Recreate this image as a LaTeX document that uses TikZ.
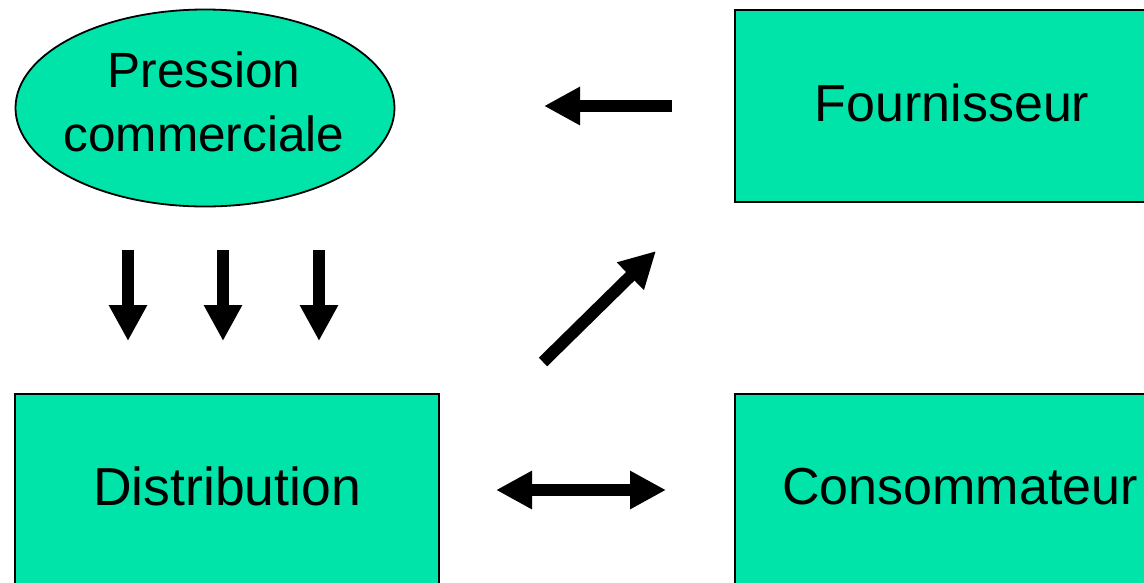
\documentclass[tikz,border=0pt]{standalone}
\usepackage{fontspec}
\setmainfont{Liberation Sans}
\usetikzlibrary{arrows.meta,shapes.geometric}
\definecolor{boxgreen}{RGB}{0,228,170}
\tikzset{
  blockbox/.style={draw=black, line width=2.5pt, fill=boxgreen, rectangle, inner sep=0pt,
    minimum height=192pt, text depth=7pt, font=\fontsize{52}{62}\selectfont},
  pressbox/.style={draw=black, line width=1.8pt, fill=boxgreen, ellipse, inner sep=0pt,
    minimum width=379pt, minimum height=197pt},
  presstext/.style={inner sep=0pt, align=center, font=\fontsize{49.5}{64}\selectfont},
  bigarrow/.style={line width=12pt, black, -{Triangle[length=36pt,width=36pt]}},
  bigdarrow/.style={line width=12pt, black, {Triangle[length=36pt,width=36pt]}-{Triangle[length=36pt,width=36pt]}}
}
\begin{document}
\begin{tikzpicture}[x=1pt,y=-1pt]
\useasboundingbox (0,0) rectangle (1144,582);
\clip (0,0) rectangle (1144,582);
\node[pressbox] (press) at (205,108) {};
\node[presstext] (presslabel) at (204,101.5) {Pression\\commerciale};
\node[blockbox, minimum width=434pt] (four) at (952,106) {Fournisseur};
\node[blockbox, minimum width=424pt, font=\fontsize{53.5}{62}\selectfont] (distr) at (227,490) {Distribution};
\node[blockbox, minimum width=450pt] (cons) at (960,490) {Consommateur};
% arrow end points
\coordinate (la1) at (672,106); \coordinate (la2) at (544,106);
\coordinate (da1) at (543,362); \coordinate (da2) at (656,251);
\coordinate (ba1) at (496,490); \coordinate (ba2) at (666,490);
\coordinate (d1a) at (128,250); \coordinate (d1b) at (128,341);
\coordinate (d2a) at (223,250); \coordinate (d2b) at (223,341);
\coordinate (d3a) at (319,250); \coordinate (d3b) at (319,341);
\draw[bigarrow] (la1) -- (la2);
\draw[bigarrow] (da1) -- (da2);
\draw[bigdarrow] (ba1) -- (ba2);
\draw[bigarrow] (d1a) -- (d1b);
\draw[bigarrow] (d2a) -- (d2b);
\draw[bigarrow] (d3a) -- (d3b);
\end{tikzpicture}
\end{document}
